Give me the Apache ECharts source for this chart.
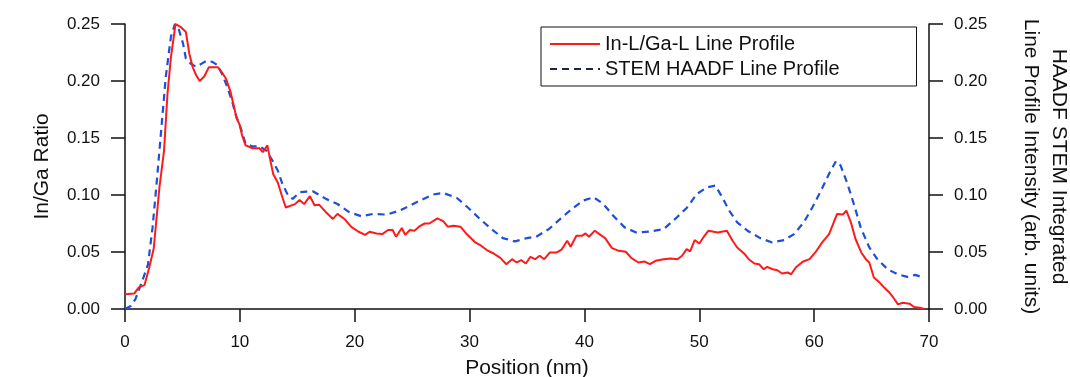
<!DOCTYPE html>
<html>
<head>
<meta charset="utf-8">
<script src="https://cdn.jsdelivr.net/npm/echarts@6/dist/echarts.min.js"></script>
<style>
  html, body { margin: 0; padding: 0; background: #fff; }
  #chart { width: 1070px; height: 377px; }
</style>
</head>
<body>
<div id="chart"></div>
<script>
// In-L/Ga-L line profile (left axis)
const redPos = [0.0, 0.8, 1.2, 1.7, 2.1, 2.5, 3.0, 3.4, 3.7, 4.0, 4.4, 4.9, 5.3, 5.6, 5.9, 6.2, 6.5, 6.9, 7.3, 8.1,
  8.4, 8.8, 9.2, 9.5, 9.7, 10.0, 10.2, 10.5, 11.1, 11.7, 12.0, 12.4, 12.6, 12.9, 13.3, 13.7, 14.0, 14.8, 15.2, 15.6,
  16.1, 16.5, 16.9, 17.5, 18.1, 18.5, 19.1, 19.7, 20.3, 20.9, 21.3, 21.9, 22.4, 22.9, 23.3, 23.6, 24.1, 24.4, 24.8, 25.2,
  25.7, 26.1, 26.5, 27.2, 27.7, 28.1, 28.6, 29.2, 29.7, 30.5, 31.0, 31.5, 32.1, 32.7, 33.2, 33.7, 34.1, 34.5, 34.9, 35.3,
  35.7, 36.1, 36.5, 37.0, 37.6, 38.0, 38.5, 38.8, 39.3, 39.8, 40.1, 40.4, 40.9, 41.4, 41.8, 42.4, 43.0, 43.6, 44.1, 44.7,
  45.2, 45.7, 46.2, 46.9, 47.5, 48.1, 48.5, 48.9, 49.2, 49.6, 50.0, 50.4, 50.8, 51.6, 52.4, 52.9, 53.3, 53.9, 54.3, 54.8,
  55.2, 55.6, 55.9, 56.4, 56.8, 57.2, 57.7, 58.0, 58.4, 59.0, 59.6, 60.1, 60.7, 61.3, 62.0, 62.5, 62.8, 63.2, 63.6, 64.1,
  64.5, 64.8, 65.2, 65.7, 66.1, 66.5, 66.9, 67.3, 67.7, 68.3, 68.7, 69.2, 69.6];
const redRatio = [0.013, 0.0135, 0.019, 0.021, 0.036, 0.053, 0.107, 0.139, 0.189, 0.221, 0.250, 0.247, 0.243, 0.224, 0.212, 0.205, 0.200, 0.204, 0.212, 0.212,
  0.208, 0.202, 0.190, 0.177, 0.168, 0.161, 0.152, 0.1435, 0.141, 0.141, 0.1376, 0.1435, 0.133, 0.1185, 0.111, 0.098, 0.089, 0.092, 0.0957, 0.092,
  0.099, 0.091, 0.0915, 0.0848, 0.079, 0.0834, 0.079, 0.072, 0.068, 0.065, 0.0678, 0.0663, 0.0657, 0.0693, 0.0693, 0.0634, 0.071, 0.065, 0.0693, 0.0687,
  0.073, 0.075, 0.075, 0.0795, 0.077, 0.0722, 0.073, 0.0722, 0.0663, 0.0584, 0.0555, 0.0517, 0.0487, 0.0446, 0.0393, 0.0437, 0.0408, 0.0429, 0.0399, 0.0458,
  0.0437, 0.0467, 0.0437, 0.0496, 0.0496, 0.052, 0.0599, 0.0546, 0.0643, 0.0643, 0.0663, 0.0634, 0.0687, 0.065, 0.0622, 0.0534, 0.051, 0.0502, 0.0446, 0.0408,
  0.0417, 0.0393, 0.0423, 0.0437, 0.0443, 0.0437, 0.0467, 0.0525, 0.0505, 0.0605, 0.0575, 0.0634, 0.0687, 0.0672, 0.0687, 0.0599, 0.054, 0.0487, 0.0437, 0.0399,
  0.0393, 0.0349, 0.037, 0.0349, 0.034, 0.0311, 0.032, 0.0305, 0.0364, 0.0414, 0.0437, 0.0496, 0.0584, 0.0657, 0.0834, 0.0828, 0.0863, 0.076, 0.0614, 0.0496,
  0.0437, 0.0408, 0.0276, 0.0232, 0.0188, 0.015, 0.0099, 0.0041, 0.0055, 0.0047, 0.0018, 0.0011, 0.0];

// STEM HAADF line profile (right axis)
const bluePos = [0.0, 0.5, 0.9, 1.5, 2.0, 2.4, 2.8, 3.2, 3.55, 4.0, 4.35, 4.7, 5.05, 5.3, 5.7, 6.2, 6.6, 7.1, 7.6, 8.05,
  8.5, 8.9, 9.3, 9.65, 10.1, 10.5, 11.1, 11.7, 12.3, 12.85, 13.3, 13.7, 14.2, 14.6, 15.2, 15.8, 16.35, 17.5, 18.5, 19.55,
  20.6, 21.6, 22.8, 23.9, 24.8, 25.8, 26.8, 27.7, 28.9, 29.9, 30.9, 31.9, 32.9, 33.95, 35.0, 35.8, 36.9, 37.9, 38.9, 39.9,
  40.8, 41.65, 42.5, 43.5, 44.5, 45.6, 46.9, 47.9, 48.9, 49.8, 50.7, 51.4, 52.0, 52.6, 53.3, 54.2, 55.3, 56.35, 57.4, 58.25,
  59.1, 59.85, 60.6, 61.3, 61.9, 62.3, 62.9, 63.5, 64.05, 64.8, 65.5, 66.4, 67.25, 68.1, 68.8, 69.3];
const blueIntensity = [0.0, 0.0026, 0.0085, 0.0246, 0.039, 0.0716, 0.1156, 0.1626, 0.2036, 0.239, 0.250, 0.2447, 0.233, 0.2198, 0.2154, 0.2124, 0.2148, 0.2177, 0.2168, 0.2139,
  0.2051, 0.1948, 0.183, 0.170, 0.158, 0.145, 0.1426, 0.1426, 0.139, 0.130, 0.1215, 0.1098, 0.0995, 0.0966, 0.1024, 0.103, 0.1033, 0.0966, 0.0921, 0.0848,
  0.0813, 0.0834, 0.0828, 0.0863, 0.0907, 0.0957, 0.1004, 0.1018, 0.0974, 0.0886, 0.079, 0.0701, 0.0622, 0.0593, 0.0622, 0.0634, 0.0701, 0.079, 0.0877, 0.0951,
  0.098, 0.0921, 0.0819, 0.0716, 0.0672, 0.0678, 0.0701, 0.079, 0.0886, 0.101, 0.1068, 0.1083, 0.098, 0.0863, 0.076, 0.0687, 0.0622, 0.0584, 0.0605, 0.0657,
  0.076, 0.0892, 0.1039, 0.1186, 0.1297, 0.1259, 0.1098, 0.0907, 0.0716, 0.054, 0.0437, 0.0349, 0.0305, 0.0282, 0.0299, 0.0282];

const seriesNames = ['In-L/Ga-L Line Profile', 'STEM HAADF Line Profile'];

const font = "'Liberation Sans', Arial, sans-serif";

const pair = (xs, ys) => xs.map((x, i) => [x, ys[i]]);

const yAxisBase = {
  type: 'value',
  min: 0,
  max: 0.25,
  interval: 0.05,
  nameLocation: 'middle',
  axisLine: { show: true, lineStyle: { color: '#111', width: 1.5 } },
  axisTick: { show: true, length: 14, lineStyle: { color: '#111', width: 1.5 } },
  axisLabel: {
    color: '#111', fontFamily: font, fontSize: 17, margin: 25,
    formatter: v => v.toFixed(2)
  },
  splitLine: { show: false },
  nameTextStyle: { color: '#111', fontFamily: font, fontSize: 21 }
};

const chart = echarts.init(document.getElementById('chart'), null, { renderer: 'canvas' });

chart.setOption({
  animation: false,
  backgroundColor: '#fff',
  grid: { left: 125, right: 141, top: 24, bottom: 68, outerBoundsMode: 'none', containLabel: false },
  legend: {
    orient: 'vertical',
    left: 541,
    top: 27,
    padding: [7, 77, 7, 8],
    itemGap: 5,
    itemWidth: 50,
    itemHeight: 14,
    borderColor: '#111',
    borderWidth: 1,
    itemStyle: { opacity: 0 },
    textStyle: { color: '#111', fontFamily: font, fontSize: 20 },
    data: [
      { name: seriesNames[0] },
      { name: seriesNames[1], lineStyle: { color: '#1e2448' } }
    ]
  },
  xAxis: {
    type: 'value',
    min: 0,
    max: 70,
    interval: 10,
    name: 'Position (nm)',
    nameLocation: 'middle',
    nameGap: 49,
    nameTextStyle: { color: '#111', fontFamily: font, fontSize: 21 },
    axisLine: { lineStyle: { color: '#111', width: 1.5 } },
    axisTick: { length: 13, lineStyle: { color: '#111', width: 1.5 } },
    axisLabel: { color: '#111', fontFamily: font, fontSize: 17, margin: 25 },
    splitLine: { show: false }
  },
  yAxis: [
    Object.assign({}, yAxisBase, {
      position: 'left',
      name: 'In/Ga Ratio',
      nameGap: 72,
      nameRotate: 90
    }),
    Object.assign({}, yAxisBase, {
      position: 'right',
      name: 'HAADF STEM Integrated\nLine Profile Intensity (arb. units)',
      nameGap: 88,
      nameRotate: -90,
      nameTextStyle: { color: '#111', fontFamily: font, fontSize: 21, lineHeight: 28 }
    })
  ],
  series: [
    {
      name: seriesNames[1],
      type: 'line',
      yAxisIndex: 1,
      symbol: 'none',
      data: pair(bluePos, blueIntensity),
      lineStyle: { color: '#1f4fd8', width: 2.2, type: [7, 5] },
      itemStyle: { color: '#1f4fd8' },
      z: 2
    },
    {
      name: seriesNames[0],
      type: 'line',
      yAxisIndex: 0,
      symbol: 'none',
      data: pair(redPos, redRatio),
      lineStyle: { color: '#ff1a1a', width: 2 },
      itemStyle: { color: '#ff1a1a' },
      z: 3
    }
  ]
});
</script>
</body>
</html>
